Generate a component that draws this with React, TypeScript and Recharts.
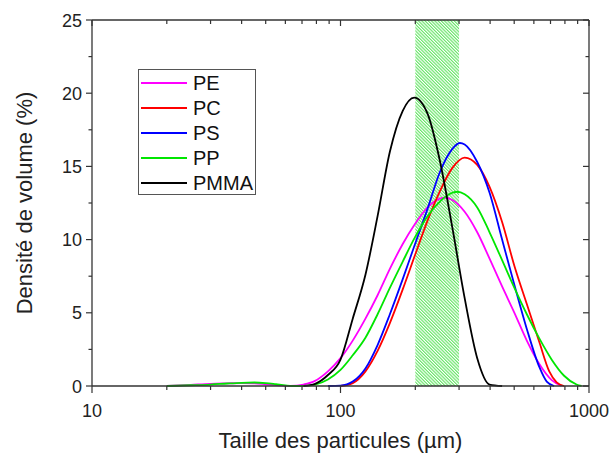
import { ComposedChart, Legend, Line, ReferenceArea, XAxis, YAxis } from "recharts";

const FONT = '"Liberation Sans", Arial, sans-serif';
const AXIS = "#333";

// chart layout
const CHART_W = 610;
const CHART_H = 454;
const MARGIN = { top: 20, right: 21, bottom: 0, left: 0 };
const Y_AXIS_W = 92;
const X_AXIS_H = 68;
const PLOT_W = CHART_W - MARGIN.left - MARGIN.right - Y_AXIS_W;
const PLOT_H = CHART_H - MARGIN.top - MARGIN.bottom - X_AXIS_H;

// particle size (µm) / volume density (%)
const peX = [20, 25, 30, 35, 40, 45, 50, 55, 60, 63, 71, 79, 89, 100, 112, 126, 141, 158, 178, 200, 224, 251, 263, 282, 316, 355, 398, 447, 501, 562, 631, 708, 776];
const peY = [0, 0.08, 0.15, 0.18, 0.2, 0.18, 0.12, 0.06, 0.01, 0, 0.1, 0.35, 1.0, 1.9, 3.1, 4.6, 6.2, 8.0, 9.7, 11.1, 12.2, 12.8, 12.86, 12.7, 11.9, 10.5, 8.7, 6.8, 5.0, 3.1, 1.5, 0.4, 0];

const pcX = [100, 112, 126, 141, 158, 178, 200, 224, 251, 282, 316, 355, 398, 447, 501, 562, 631, 692, 741, 794];
const pcY = [0, 0.2, 1.0, 2.4, 4.3, 6.6, 9.0, 11.3, 13.3, 14.9, 15.6, 15.1, 13.6, 11.2, 8.2, 5.6, 3.0, 1.0, 0.25, 0];

const psX = [89, 100, 112, 126, 141, 158, 178, 200, 224, 251, 282, 302, 316, 355, 398, 447, 501, 562, 631, 676, 724];
const psY = [0, 0.02, 0.3, 1.2, 2.8, 4.9, 7.3, 9.75, 12.1, 14.6, 16.2, 16.6, 16.5, 15.3, 13.2, 10.0, 6.9, 3.9, 1.3, 0.3, 0];

const ppX = [20, 25, 30, 35, 40, 45, 50, 55, 60, 64, 71, 79, 89, 100, 112, 126, 141, 158, 178, 200, 224, 251, 282, 295, 316, 355, 398, 447, 501, 562, 631, 708, 794, 891, 933];
const ppY = [0, 0.05, 0.1, 0.17, 0.22, 0.24, 0.2, 0.12, 0.04, 0, 0, 0.1, 0.45, 1.1, 2.1, 3.3, 4.9, 6.7, 8.5, 10.2, 11.6, 12.6, 13.2, 13.27, 13.1, 12.2, 10.5, 8.6, 6.7, 4.9, 3.25, 1.8, 0.7, 0.1, 0];

const pmmaX = [71, 79, 89, 100, 112, 126, 141, 158, 178, 198, 224, 251, 282, 316, 355, 398, 447];
const pmmaY = [0, 0.15, 0.75, 1.8, 4.6, 7.6, 11.6, 16.0, 18.8, 19.7, 18.6, 15.4, 10.8, 6.0, 1.9, 0.1, 0];

// hatched size window
const bandX = [200, 300];

const xTicks = [10, 20, 30, 40, 50, 60, 70, 80, 90, 100, 200, 300, 400, 500, 600, 700, 800, 900, 1000];
const xMajor = [10, 100, 1000];
const yTicks = [0, 2.5, 5, 7.5, 10, 12.5, 15, 17.5, 20, 22.5, 25];
const X_MAX = 1000;
const Y_MAX = 25;

const series = [
  { name: "PE", color: "#ff00ff", xs: peX, ys: peY },
  { name: "PC", color: "#ff0000", xs: pcX, ys: pcY },
  { name: "PS", color: "#0000ff", xs: psX, ys: psY },
  { name: "PP", color: "#00e600", xs: ppX, ys: ppY },
  { name: "PMMA", color: "#000000", xs: pmmaX, ys: pmmaY },
];

const toPoints = (xs: number[], ys: number[]) => xs.map((x, i) => ({ x, v: ys[i] }));

// bottom tick (outward) + mirrored top tick (inward); the last one also closes the right edge
function XTick({ x, y, payload }: any) {
  const major = xMajor.includes(payload.value);
  const top = y - PLOT_H;
  return (
    <g>
      <line x1={x} x2={x} y1={y} y2={y + (major ? 7 : 4)} stroke={AXIS} strokeWidth={1.2} />
      <line x1={x} x2={x} y1={top} y2={top + (major ? 6 : 4)} stroke={AXIS} strokeWidth={1.2} />
      {payload.value === X_MAX && <line x1={x} x2={x} y1={top} y2={y} stroke={AXIS} strokeWidth={1.3} />}
      {major && (
        <text x={x} y={y + 31} textAnchor="middle" fontSize={18} fontFamily={FONT} fill="#222">
          {payload.value}
        </text>
      )}
    </g>
  );
}

// left tick (outward) + mirrored right tick (inward); the last one also closes the top edge
function YTick({ x, y, payload }: any) {
  const major = payload.value % 5 === 0;
  const right = x + PLOT_W;
  return (
    <g>
      <line x1={x} x2={x - (major ? 6 : 3.5)} y1={y} y2={y} stroke={AXIS} strokeWidth={1.2} />
      <line x1={right} x2={right - (major ? 6 : 3.5)} y1={y} y2={y} stroke={AXIS} strokeWidth={1.2} />
      {payload.value === Y_MAX && <line x1={x} x2={right} y1={y} y2={y} stroke={AXIS} strokeWidth={1.3} />}
      {major && (
        <text x={x - 10} y={y + 6.5} textAnchor="end" fontSize={18} fontFamily={FONT} fill="#222">
          {payload.value}
        </text>
      )}
    </g>
  );
}

function LegendBox() {
  return (
    <svg width={118} height={126} style={{ display: "block" }}>
      <rect x={0.5} y={0.5} width={117} height={125} fill="#fff" stroke="#555" strokeWidth={1} />
      {series.map((s, i) => {
        const cy = 14 + i * 25;
        return (
          <g key={s.name}>
            <line x1={3} x2={49} y1={cy} y2={cy} stroke={s.color} strokeWidth={2} />
            <text x={55} y={cy + 7} fontSize={20} fontFamily={FONT} fill="#111">
              {s.name}
            </text>
          </g>
        );
      })}
    </svg>
  );
}

export default function App() {
  return (
    <div style={{ position: "absolute", left: 0, top: 0, background: "#fff" }}>
      <ComposedChart width={CHART_W} height={CHART_H} margin={MARGIN}>
        <defs>
          <pattern id="hatch" patternUnits="userSpaceOnUse" width={2.3} height={2.3} patternTransform="rotate(-45)">
            <rect width={2.3} height={2.3} fill="#ffffff" />
            <line x1={0.6} y1={0} x2={0.6} y2={2.3} stroke="#4fe24f" strokeWidth={1} />
          </pattern>
        </defs>
        <ReferenceArea x1={bandX[0]} x2={bandX[1]} fill="url(#hatch)" fillOpacity={1} stroke="none" />
        {series.map((s) => (
          <Line
            key={s.name}
            data={toPoints(s.xs, s.ys)}
            dataKey="v"
            name={s.name}
            type="monotone"
            stroke={s.color}
            strokeWidth={1.8}
            dot={false}
            activeDot={false}
            isAnimationActive={false}
          />
        ))}
        <XAxis
          dataKey="x"
          type="number"
          scale="log"
          domain={[10, X_MAX]}
          allowDataOverflow
          ticks={xTicks}
          interval={0}
          height={X_AXIS_H}
          tickSize={0}
          tickMargin={0}
          stroke={AXIS}
          strokeWidth={1.3}
          tick={(p: any) => <XTick {...p} />}
          label={(p: any) => {
            const vb = p.viewBox;
            return (
              <text x={vb.x + vb.width / 2} y={vb.y + 62} textAnchor="middle" fontSize={22} fontFamily={FONT} fill="#222">
                Taille des particules (µm)
              </text>
            );
          }}
        />
        <YAxis
          type="number"
          domain={[0, Y_MAX]}
          ticks={yTicks}
          interval={0}
          width={Y_AXIS_W}
          tickSize={0}
          tickMargin={0}
          stroke={AXIS}
          strokeWidth={1.3}
          tick={(p: any) => <YTick {...p} />}
          label={(p: any) => {
            const vb = p.viewBox;
            const cx = vb.x + 24;
            const cy = vb.y + vb.height / 2;
            return (
              <text x={cx} y={cy} transform={`rotate(-90 ${cx} ${cy})`} textAnchor="middle" dominantBaseline="central" fontSize={22} fontFamily={FONT} fill="#222">
                Densité de volume (%)
              </text>
            );
          }}
        />
        <Legend
          layout="vertical"
          verticalAlign="middle"
          align="center"
          wrapperStyle={{ left: 138, top: 69, width: 118, height: 126 }}
          content={() => <LegendBox />}
        />
      </ComposedChart>
    </div>
  );
}
